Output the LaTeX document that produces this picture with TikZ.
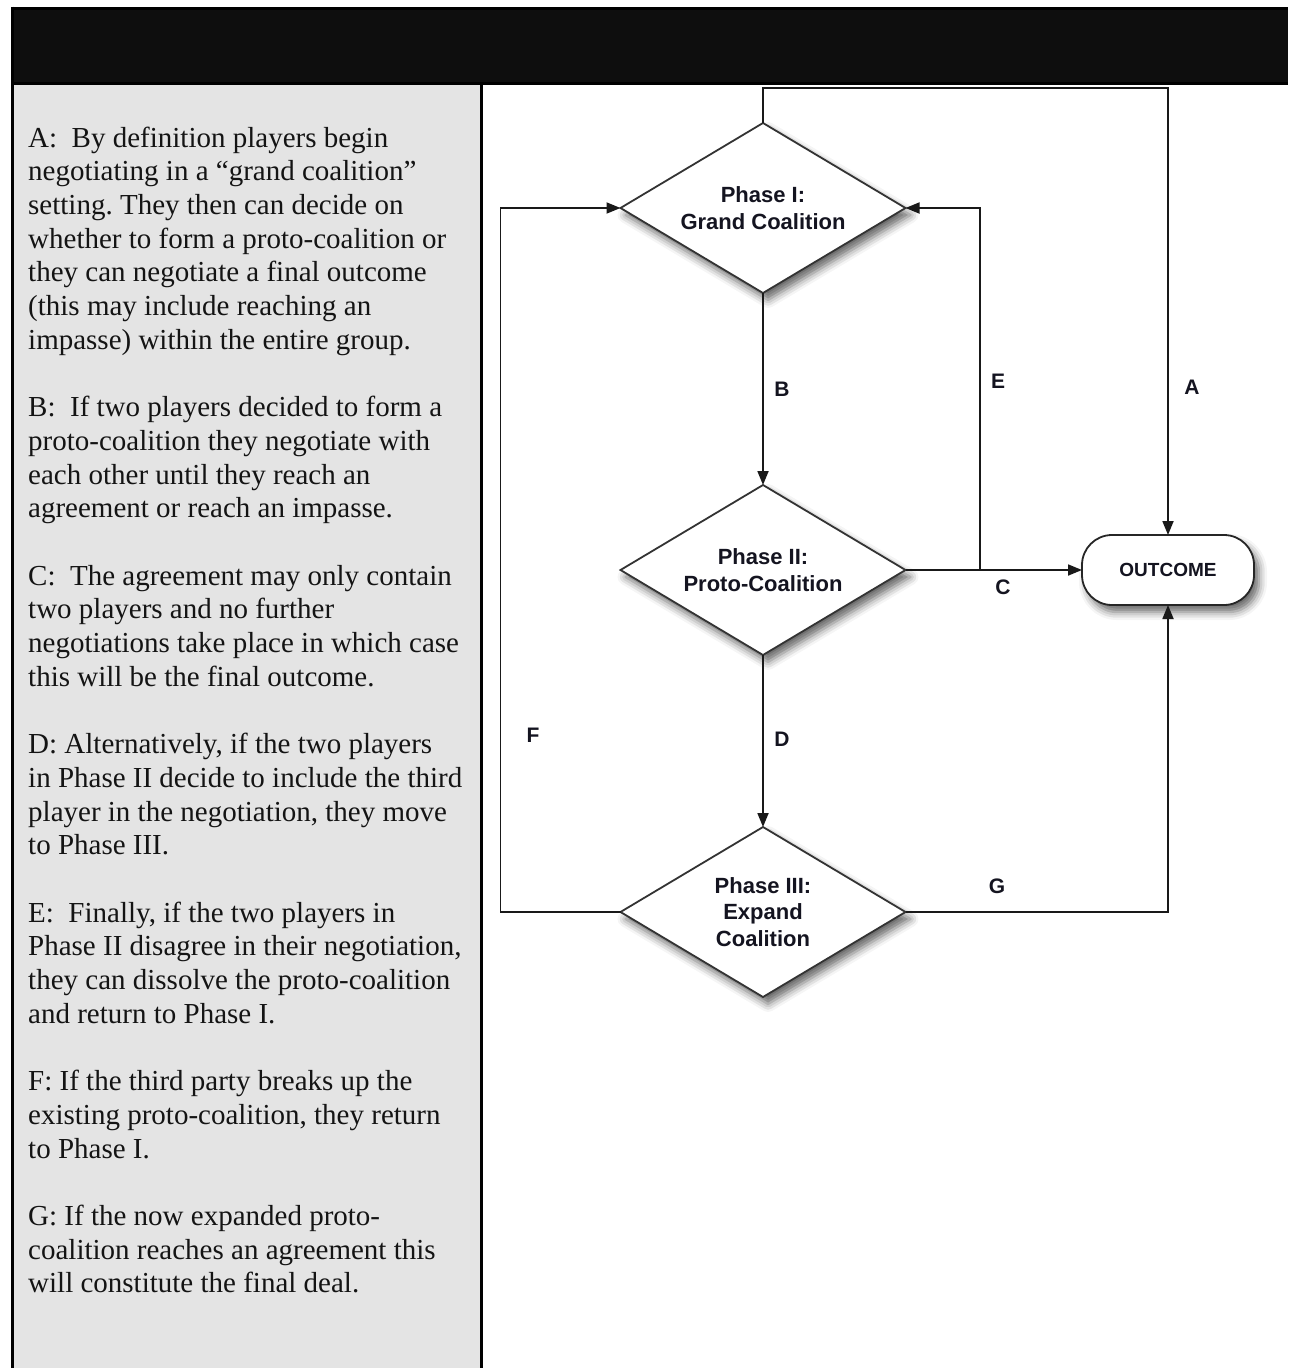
\documentclass[tikz,border=0pt]{standalone}
\usepackage{fontspec}
\setmainfont{Liberation Serif}
\newfontfamily\diagfont{Liberation Sans}
\usetikzlibrary{shapes.geometric,arrows.meta,shadows.blur}
\definecolor{panelgray}{RGB}{228,228,228}
\definecolor{barblack}{RGB}{14,14,14}
\definecolor{inkdark}{RGB}{20,20,32}
\newcommand\txtline[2]{\node[lt] (t#1) at (28,{147+33.7*#1}) {#2};}
\begin{document}
\begin{tikzpicture}[x=1pt,y=-1pt,
  frameline/.style={line width=3pt,black},
  lt/.style={anchor=base west,inner sep=0pt,font=\fontsize{29}{33.7}\selectfont\frenchspacing,text=black!92},
  shade/.style={blur shadow={shadow xshift=5pt,shadow yshift=-7pt,shadow blur radius=8pt,shadow opacity=60}},
  phase/.style={diamond,aspect=1.676,draw=black!80,line width=1.8pt,fill=white,minimum width=285pt,minimum height=170pt,inner sep=0pt,outer sep=0pt,align=center,font=\diagfont\bfseries\fontsize{22}{26.5}\selectfont,text=inkdark,shade},
  endbox/.style={rectangle,rounded corners=30pt,draw=black!85,line width=1.8pt,fill=white,minimum width=172pt,minimum height=70pt,outer sep=0pt,font=\diagfont\bfseries\fontsize{19}{22}\selectfont,text=inkdark,shade},
  conn/.style={line width=1.8pt,black!90,-{Triangle[length=14pt,width=11pt]}},
  lab/.style={font=\diagfont\bfseries\fontsize{21}{24}\selectfont,text=inkdark,inner sep=0pt}
]
\useasboundingbox (0,0) rectangle (1288,1368);
% frame
\fill[panelgray] (12,83) rectangle (481,1368);
\fill[barblack] (12,8) rectangle (1288,83);
\draw[frameline] (11,8) -- (1288,8);
\draw[frameline] (11,83) -- (1288,83);
\draw[frameline] (12.5,6.5) -- (12.5,1368);
\draw[frameline] (481,83) -- (481,1368);
% left text
\txtline{0}{A:\ \ By definition players begin}
\txtline{1}{negotiating in a “grand coalition”}
\txtline{2}{setting. They then can decide on}
\txtline{3}{whether to form a proto-coalition or}
\txtline{4}{they can negotiate a final outcome}
\txtline{5}{(this may include reaching an}
\txtline{6}{impasse) within the entire group.}
\txtline{8}{B:\ \ If two players decided to form a}
\txtline{9}{proto-coalition they negotiate with}
\txtline{10}{each other until they reach an}
\txtline{11}{agreement or reach an impasse.}
\txtline{13}{C:\ \ The agreement may only contain}
\txtline{14}{two players and no further}
\txtline{15}{negotiations take place in which case}
\txtline{16}{this will be the final outcome.}
\txtline{18}{D: Alternatively, if the two players}
\txtline{19}{in Phase II decide to include the third}
\txtline{20}{player in the negotiation, they move}
\txtline{21}{to Phase III.}
\txtline{23}{E:\ \ Finally, if the two players in}
\txtline{24}{Phase II disagree in their negotiation,}
\txtline{25}{they can dissolve the proto-coalition}
\txtline{26}{and return to Phase I.}
\txtline{28}{F: If the third party breaks up the}
\txtline{29}{existing proto-coalition, they return}
\txtline{30}{to Phase I.}
\txtline{32}{G: If the now expanded proto-}
\txtline{33}{coalition reaches an agreement this}
\txtline{34}{will constitute the final deal.}
% diagram nodes
\node[phase] (p1) at (763,208) {Phase I:\\Grand Coalition};
\node[phase] (p2) at (763,570) {Phase II:\\Proto-Coalition};
\node[phase] (p3) at (763,912) {Phase III:\\Expand\\Coalition};
\node[endbox] (out) at (1168,570) {OUTCOME};
\coordinate (ej) at (980,570);
% connectors
\draw[conn] (p1.north) -- ++(0,-35) -| (out.north);
\draw[conn] (p1.south) -- (p2.north);
\draw[conn] (p2.east) -- (out.west);
\draw[conn] (ej) |- (p1.east);
\draw[conn] (p2.south) -- (p3.north);
\draw[conn] (p3.west) -- ++(-120,0) |- (p1.west);
\draw[conn] (p3.east) -| (out.south);
% labels
\node[lab] (la) at (1192,387) {A};
\node[lab] (lb) at (782,389) {B};
\node[lab] (le) at (998,381) {E};
\node[lab] (lc) at (1003,587) {C};
\node[lab] (ld) at (782,739) {D};
\node[lab] (lf) at (533,735) {F};
\node[lab] (lg) at (997,886) {G};
\end{tikzpicture}
\end{document}
